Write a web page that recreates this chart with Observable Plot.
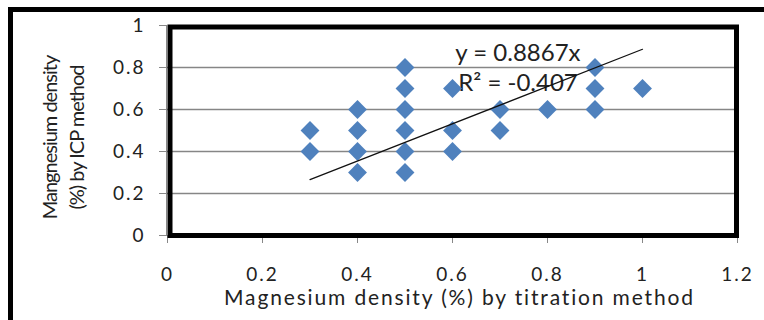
<!DOCTYPE html>
<html><head><meta charset="utf-8">
<script src="https://cdn.jsdelivr.net/npm/d3@7"></script>
<script src="https://cdn.jsdelivr.net/npm/@observablehq/plot@0.6"></script>
<style>
html,body{margin:0;padding:0;background:#fff;}
#wrap{position:relative;width:764px;height:320px;overflow:hidden;}
#border{position:absolute;left:8px;top:7px;right:-10px;bottom:-10px;border-left:5px solid #000;border-top:5px solid #000;pointer-events:none;}
svg text{font-family:Lato,sans-serif;}
svg g[aria-label="y-axis tick label"] text, svg g[aria-label="x-axis tick label"] text{letter-spacing:2px;}
svg g[aria-label="text"].xtitle text{letter-spacing:1.85px;}
svg g[aria-label="text"].ytitle text{letter-spacing:-1px;}
</style></head><body>
<div id="wrap"><div id="chart"></div><div id="border"></div></div>
<script>
const titrationX = [0.3,0.3, 0.4,0.4,0.4,0.4, 0.5,0.5,0.5,0.5,0.5,0.5, 0.6,0.6,0.6, 0.7,0.7, 0.8, 0.9,0.9,0.9, 1.0];
const icpY       = [0.4,0.5, 0.3,0.4,0.5,0.6, 0.3,0.4,0.5,0.6,0.7,0.8, 0.4,0.5,0.7, 0.5,0.6, 0.6, 0.6,0.7,0.8, 0.7];
const xTicks = [0, 0.2, 0.4, 0.6, 0.8, 1, 1.2];
const yTicks = [0, 0.2, 0.4, 0.6, 0.8, 1];
const gridValues = [0.2, 0.4, 0.6, 0.8];
const slope = 0.8867;
const trendRange = [0.3, 1.0];
const equationLabels = ["y = 0.8867x", "R² = -0.407"];
const labelAnchorX = [0.606, 0.612];
const labelAnchorY = [0.867, 0.726];
const xTitle = "Magnesium density (%) by titration method";
const yTitle = "Mangnesium density\n(%) by ICP method";

const points = titrationX.map((x, i) => ({x, y: icpY[i]}));
const trend = trendRange.map(x => ({x, y: slope * x}));

const plot = Plot.plot({
  width: 764, height: 320,
  marginLeft: 167, marginRight: 27, marginTop: 25, marginBottom: 85,
  x: {domain: [0, 1.2]},
  y: {domain: [0, 1]},
  style: {fontFamily: "Lato, sans-serif", background: "transparent", overflow: "visible"},
  marks: [
    Plot.ruleY(gridValues, {stroke: "#868686", strokeWidth: 1.5}),
    Plot.ruleX([0], {stroke: "#888", dx: -1}),
    Plot.axisY({ticks: yTicks, tickSize: 8, tickPadding: 14, tickFormat: d => String(d), stroke: "#888", fill: "#222", fontSize: 19, label: null}),
    Plot.axisX({ticks: xTicks, tickSize: 8, tickPadding: 24, tickFormat: d => String(d), stroke: "#888", fill: "#222", fontSize: 19, label: null}),
    Plot.text(equationLabels, {x: (d, i) => labelAnchorX[i], y: (d, i) => labelAnchorY[i], text: d => d, textAnchor: "start", lineAnchor: "middle", fontSize: 24, fill: "#222"}),
    Plot.dot(points, {x: "x", y: "y", symbol: "diamond2", r: 8.5, fill: "#4f81bd", stroke: "none"}),
    Plot.line(trend, {x: "x", y: "y", stroke: "#111", strokeWidth: 1.2}),
    Plot.frame({stroke: "#000", strokeWidth: 5, insetLeft: 2.5, insetTop: 1.5, insetRight: 1}),
    Plot.text([xTitle], {frameAnchor: "bottom", dy: 63, dx: 7, fontSize: 21, textAnchor: "middle", lineAnchor: "middle", fill: "#222", className: "xtitle"}),
    Plot.text([yTitle], {frameAnchor: "left", rotate: -90, dx: -106, dy: 7, fontSize: 20, lineHeight: 1.35, textAnchor: "middle", lineAnchor: "middle", fill: "#222", className: "ytitle"})
  ]
});
document.getElementById("chart").appendChild(plot);
</script>
</body></html>
